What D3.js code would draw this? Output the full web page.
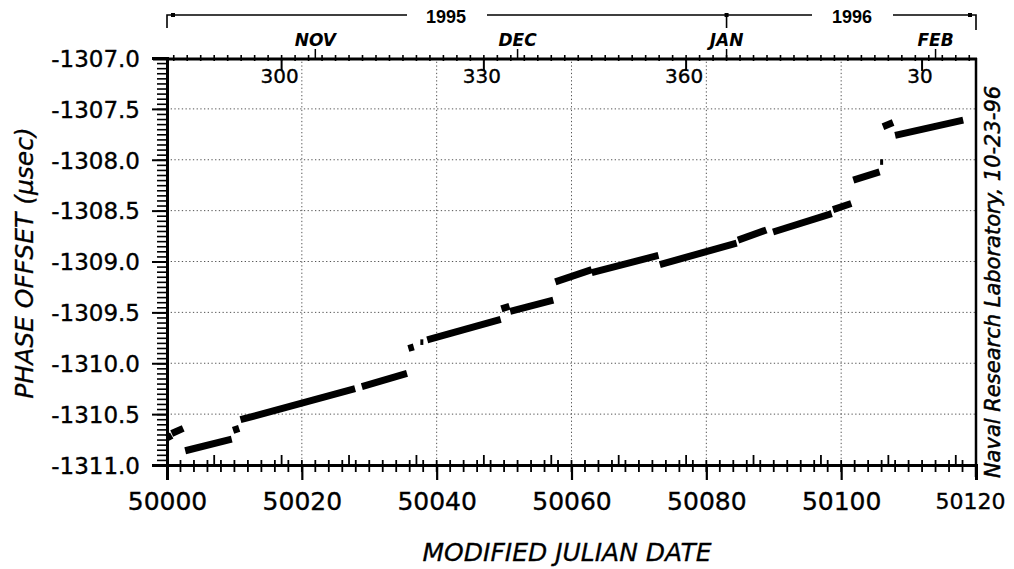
<!DOCTYPE html>
<html>
<head>
<meta charset="utf-8">
<script src="https://cdn.jsdelivr.net/npm/d3@7"></script>
<style>
  html, body { margin: 0; padding: 0; background: #fff; }
  svg { display: block; }
  text { fill: #000; }
</style>
</head>
<body>
<svg id="chart" width="1014" height="569"></svg>
<script>
// ---------------- data ----------------
const xDomain = [50000, 50120];
const yDomain = [-1311.0, -1307.0];
const xMajorTicks = [50000, 50020, 50040, 50060, 50080, 50100, 50120];
const xTickLabels = ["50000", "50020", "50040", "50060", "50080", "50100", "50120"];
const yMajorTicks = [-1311.0, -1310.5, -1310.0, -1309.5, -1309.0, -1308.5, -1308.0, -1307.5, -1307.0];
const yTickLabels = ["-1311.0", "-1310.5", "-1310.0", "-1309.5", "-1309.0", "-1308.5", "-1308.0", "-1307.5", "-1307.0"];
// day-of-year labels on the top axis (MJD positions)
const doyLabels = ["300", "330", "360", "30"];
const doyMJD = [50017, 50047, 50077, 50112];
// months
const monthLabels = ["NOV", "DEC", "JAN", "FEB"];
const monthMJD = [50022, 50052, 50083, 50114];
// years
const yearLabels = ["1995", "1996"];
const yearStartMJD = [50000, 50083];
const yearEndMJD = [50083, 50120];
// phase-offset segments: [MJD start, value start, MJD end, value end] (µs)
const phaseSegments = [
  [50000.0, -1310.735, 50000.7, -1310.71],
  [50000.7, -1310.69, 50002.4, -1310.64],
  [50002.7, -1310.86, 50009.6, -1310.745],
  [50009.8, -1310.66, 50010.7, -1310.64],
  [50010.9, -1310.555, 50027.9, -1310.25],
  [50028.9, -1310.23, 50035.6, -1310.10],
  [50035.8, -1309.855, 50036.6, -1309.84],
  [50037.8, -1309.82, 50037.8, -1309.765],
  [50038.6, -1309.77, 50049.5, -1309.57],
  [50049.6, -1309.465, 50050.8, -1309.44],
  [50050.9, -1309.49, 50057.3, -1309.38],
  [50057.6, -1309.20, 50063.0, -1309.08],
  [50063.0, -1309.11, 50072.9, -1308.94],
  [50073.1, -1309.03, 50084.5, -1308.82],
  [50084.7, -1308.79, 50088.9, -1308.69],
  [50089.9, -1308.71, 50098.6, -1308.53],
  [50098.8, -1308.49, 50101.5, -1308.43],
  [50101.8, -1308.20, 50105.7, -1308.12],
  [50106.0, -1308.05, 50106.0, -1307.995],
  [50106.2, -1307.675, 50107.7, -1307.635],
  [50108.0, -1307.76, 50118.1, -1307.61]
];

// ---------------- layout ----------------
const svg = d3.select("#chart");
const L = 167, R = 976, T = 58, B = 465;
const x = d3.scaleLinear().domain(xDomain).range([L, R]);
const y = d3.scaleLinear().domain(yDomain).range([B, T]);
const FONT = "'DejaVu Sans', sans-serif";

// grid (dotted)
const grid = svg.append("g");
grid.selectAll("line.gy").data(yMajorTicks.filter(v => v > yDomain[0] && v < yDomain[1]))
  .join("line")
  .attr("x1", L).attr("x2", R)
  .attr("y1", d => y(d)).attr("y2", d => y(d))
  .attr("stroke", "#555").attr("stroke-width", 1).attr("stroke-dasharray", "1.3,2.4");
grid.selectAll("line.gx").data(xMajorTicks.filter(v => v > xDomain[0] && v < xDomain[1]))
  .join("line")
  .attr("y1", T).attr("y2", B)
  .attr("x1", d => x(d)).attr("x2", d => x(d))
  .attr("stroke", "#555").attr("stroke-width", 1).attr("stroke-dasharray", "1.3,2.4");

// ---------------- left axis ----------------
const yMinor = d3.range(0, 81).map(i => yDomain[0] + i * 0.05);
const leftMinor = svg.append("g").attr("transform", `translate(${L},0)`)
  .call(d3.axisLeft(y).tickValues(yMinor).tickSize(10).tickFormat(""));
leftMinor.select(".domain").remove();
leftMinor.selectAll("line").attr("stroke-width", 1.6);

const leftAxis = svg.append("g").attr("transform", `translate(${L},0)`)
  .call(d3.axisLeft(y).tickValues(yMajorTicks).tickSize(15).tickPadding(12)
    .tickFormat((d, i) => yTickLabels[i]));
leftAxis.select(".domain").attr("stroke-width", 3);
leftAxis.selectAll(".tick line").attr("stroke-width", 2);
leftAxis.selectAll("text").attr("font-family", FONT).attr("font-size", 23)
  .attr("fill", "#000").attr("stroke", "#000").attr("stroke-width", 0.35).attr("dy", "0.36em");

// ---------------- bottom axis ----------------
const bottomAxis = svg.append("g").attr("transform", `translate(0,${B})`)
  .call(d3.axisBottom(x).tickValues(xMajorTicks).tickSize(15).tickPadding(12)
    .tickFormat((d, i) => xTickLabels[i]));
bottomAxis.select(".domain").attr("stroke-width", 3);
bottomAxis.selectAll(".tick line").attr("stroke-width", 2.2);
bottomAxis.selectAll("text").attr("font-family", FONT).attr("font-size", 25)
  .attr("fill", "#000").attr("stroke", "#000").attr("stroke-width", 0.35).attr("dy", "0.72em");
// the last label sits slightly left and is narrower, as in the original print
bottomAxis.selectAll("text").filter((d, i) => i === xMajorTicks.length - 1)
  .attr("x", -6).attr("font-size", 22).attr("dy", "0.78em");

// minor ticks every 2 MJD crossing the axis line
const xMinor = d3.range(xDomain[0] + 2, xDomain[1], 2);
svg.append("g").selectAll("line").data(xMinor).join("line")
  .attr("x1", d => x(d)).attr("x2", d => x(d))
  .attr("y1", B - 5).attr("y2", B + 7)
  .attr("stroke", "#000").attr("stroke-width", 1.8);
// taller upward ticks at every 10 days of year
const doy10MJD = d3.range(50007, 50120, 10);
svg.append("g").selectAll("line").data(doy10MJD).join("line")
  .attr("x1", d => x(d)).attr("x2", d => x(d))
  .attr("y1", B - 10).attr("y2", B)
  .attr("stroke", "#000").attr("stroke-width", 1.8);

// ---------------- right axis ----------------
svg.append("line").attr("x1", R).attr("x2", R).attr("y1", T).attr("y2", B + 12)
  .attr("stroke", "#000").attr("stroke-width", 2.5);

// ---------------- top axis ----------------
svg.append("line").attr("x1", L - 14).attr("x2", R + 1).attr("y1", T + 1).attr("y2", T + 1)
  .attr("stroke", "#000").attr("stroke-width", 3);
// minor day ticks every 2 days of year
const topMinor = d3.range(50001, 50120, 2);
svg.append("g").selectAll("line").data(topMinor).join("line")
  .attr("x1", d => x(d)).attr("x2", d => x(d))
  .attr("y1", T - 3).attr("y2", T + 3)
  .attr("stroke", "#000").attr("stroke-width", 1.6);
// labelled day-of-year ticks (downward)
const topAxis = svg.append("g");
topAxis.selectAll("line").data(doyMJD).join("line")
  .attr("x1", d => x(d)).attr("x2", d => x(d))
  .attr("y1", T).attr("y2", T + 13)
  .attr("stroke", "#000").attr("stroke-width", 2);
topAxis.selectAll("text").data(doyLabels).join("text")
  .attr("x", (d, i) => x(doyMJD[i]) - 2).attr("y", 83)
  .attr("text-anchor", "middle").attr("font-family", FONT).attr("font-size", 20)
  .attr("stroke", "#000").attr("stroke-width", 0.35)
  .text(d => d);

// month ticks and labels
const months = svg.append("g");
months.selectAll("line").data(monthMJD).join("line")
  .attr("x1", d => x(d)).attr("x2", d => x(d))
  .attr("y1", 49).attr("y2", T)
  .attr("stroke", "#000").attr("stroke-width", 1.5);
months.selectAll("text").data(monthLabels).join("text")
  .attr("x", (d, i) => x(monthMJD[i])).attr("y", 46)
  .attr("text-anchor", "middle").attr("font-family", FONT).attr("font-size", 17)
  .attr("font-weight", "bold").attr("font-style", "italic")
  .text(d => d);

// year bracket
const yb = svg.append("g");
const yearLabelX = [446, 852];
yb.append("path")
  .attr("d", `M${x(yearStartMJD[0])},28 V15 H${yearLabelX[0] - 39} M${yearLabelX[0] + 41},15 H${yearLabelX[1] - 40} M${yearLabelX[1] + 41},15 H${x(yearEndMJD[1])} V30`)
  .attr("fill", "none").attr("stroke", "#000").attr("stroke-width", 1.6);
yb.append("line").attr("x1", x(yearStartMJD[1])).attr("x2", x(yearStartMJD[1]))
  .attr("y1", 15).attr("y2", 28).attr("stroke", "#000").attr("stroke-width", 1.6);
yb.selectAll("rect").data([x(yearStartMJD[0]) + 6, x(yearStartMJD[1]), x(yearEndMJD[1]) - 6]).join("rect")
  .attr("x", d => d - 2).attr("y", 13).attr("width", 4).attr("height", 4).attr("fill", "#000");
yb.selectAll("text").data(yearLabels).join("text")
  .attr("x", (d, i) => yearLabelX[i]).attr("y", 23)
  .attr("text-anchor", "middle").attr("font-family", "'Liberation Sans', Arial, sans-serif")
  .attr("font-size", 18).attr("font-weight", "bold")
  .text(d => d);

// ---------------- data segments ----------------
svg.append("g").selectAll("line").data(phaseSegments).join("line")
  .attr("x1", d => x(d[0])).attr("y1", d => y(d[1]))
  .attr("x2", d => x(d[2])).attr("y2", d => y(d[3]))
  .attr("stroke", "#000")
  .attr("stroke-width", d => d[0] === d[2] ? 3 : 7)
  .attr("stroke-linecap", "butt");

// ---------------- titles ----------------
svg.append("text")
  .attr("x", 567).attr("y", 561)
  .attr("text-anchor", "middle").attr("font-family", FONT).attr("font-size", 25)
  .attr("font-style", "italic").attr("stroke", "#000").attr("stroke-width", 0.3)
  .text("MODIFIED JULIAN DATE");

svg.append("text")
  .attr("transform", "translate(33,263) rotate(-90)")
  .attr("text-anchor", "middle").attr("font-family", FONT).attr("font-size", 25)
  .attr("font-style", "italic").attr("stroke", "#000").attr("stroke-width", 0.3)
  .text("PHASE OFFSET (\u03BCsec)");

svg.append("text")
  .attr("transform", "translate(1000,282) rotate(-90)")
  .attr("text-anchor", "middle").attr("font-family", FONT).attr("font-size", 21)
  .attr("font-style", "italic").attr("stroke", "#000").attr("stroke-width", 0.5)
  .text("Naval Research Laboratory, 10-23-96");
</script>
</body>
</html>
